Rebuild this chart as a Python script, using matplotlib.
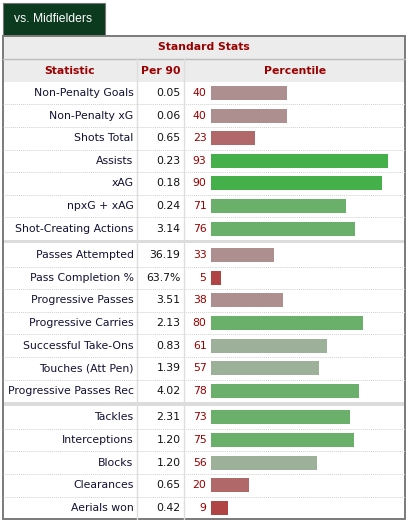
import matplotlib.pyplot as plt
from matplotlib.patches import Rectangle

stats = ["Non-Penalty Goals", "Non-Penalty xG", "Shots Total", "Assists", "xAG",
         "npxG + xAG", "Shot-Creating Actions",
         "Passes Attempted", "Pass Completion %", "Progressive Passes",
         "Progressive Carries", "Successful Take-Ons", "Touches (Att Pen)",
         "Progressive Passes Rec",
         "Tackles", "Interceptions", "Blocks", "Clearances", "Aerials won"]
per90 = ["0.05", "0.06", "0.65", "0.23", "0.18", "0.24", "3.14",
         "36.19", "63.7%", "3.51", "2.13", "0.83", "1.39", "4.02",
         "2.31", "1.20", "1.20", "0.65", "0.42"]
percentile = [40, 40, 23, 93, 90, 71, 76,
              33, 5, 38, 80, 61, 57, 78,
              73, 75, 56, 20, 9]
group_sizes = [7, 7, 5]

RED = "#990000"
W, H = 409, 525
ROW = 22.6
FS = 7.8


def pct_color(p):
    if p >= 90:
        return "#45b049"
    if p >= 70:
        return "#6aaf6a"
    if p >= 50:
        return "#9cb09a"
    if p >= 30:
        return "#ad8f8f"
    if p >= 15:
        return "#b06868"
    return "#b04444"


def row_positions():
    ys = []
    top = 81.7
    for g, n in enumerate(group_sizes):
        for i in range(n):
            ys.append(top + ROW * i + ROW / 2)
        top += ROW * n
        if g < len(group_sizes) - 1:
            top += 4
    return ys


def main():
    fig = plt.figure(figsize=(W / 100, H / 100), dpi=100)
    ax = fig.add_axes([0, 0, 1, 1])
    ax.set_xlim(0, W)
    ax.set_ylim(H, 0)
    ax.axis("off")

    ys = row_positions()
    bottom = ys[-1] + ROW / 2

    # tab
    ax.add_patch(Rectangle((3, 3), 101.5, 33, facecolor="#0b3a1e",
                           edgecolor="#777777", lw=0.8))
    ax.text(53.5, 19.5, "vs. Midfielders", color="white", fontsize=8.7,
            family="Liberation Sans", ha="center", va="center")

    # header rows
    ax.add_patch(Rectangle((3, 36), 402, 45.7, facecolor="#ececec", lw=0))
    ax.plot([3, 405], [59.3, 59.3], color="#bbbbbb", lw=1)
    ax.text(204, 47.5, "Standard Stats", color=RED, fontsize=FS,
            fontweight="bold", ha="center", va="center")
    ax.text(70, 70.5, "Statistic", color=RED, fontsize=FS,
            fontweight="bold", ha="center", va="center")
    ax.text(160.5, 70.5, "Per 90", color=RED, fontsize=FS,
            fontweight="bold", ha="center", va="center")
    ax.text(295, 70.5, "Percentile", color=RED, fontsize=FS,
            fontweight="bold", ha="center", va="center")

    # row lines
    idx = 0
    for g, n in enumerate(group_sizes):
        for i in range(n):
            y_end = ys[idx] + ROW / 2
            last = i == n - 1
            if last and g < len(group_sizes) - 1:
                ax.add_patch(Rectangle((3, y_end), 402, 3.5,
                                       facecolor="#dcdcdc", lw=0))
            elif not last:
                ax.plot([3, 405], [y_end, y_end], color="#d0d0d0", lw=0.7,
                        ls=(0, (1, 1)))
            idx += 1

    # column dividers
    ax.plot([137, 137], [59.3, bottom], color="#dddddd", lw=1)
    ax.plot([184.3, 184.3], [59.3, bottom], color="#dddddd", lw=1)

    # outer border
    ax.add_patch(Rectangle((3, 36), 401.5, bottom - 36, fill=False,
                           edgecolor="#7a7a7a", lw=1.4))

    for y, name, val, p in zip(ys, stats, per90, percentile):
        ax.text(133.5, y, name, color="#111133", fontsize=FS,
                ha="right", va="center")
        ax.text(180.5, y, val, color="#111111", fontsize=FS,
                ha="right", va="center")
        ax.text(206.5, y, str(p), color=RED, fontsize=FS,
                ha="right", va="center")

    # percentile bars
    bax = fig.add_axes([211 / W, 0, 190 / W, 1])
    bax.set_xlim(0, 100)
    bax.set_ylim(H, 0)
    bax.axis("off")
    bax.patch.set_alpha(0)
    bax.barh(ys, percentile, height=14, left=0,
             color=[pct_color(p) for p in percentile])

    fig.savefig("out.png", dpi=100)


if __name__ == '__main__':
    main()
